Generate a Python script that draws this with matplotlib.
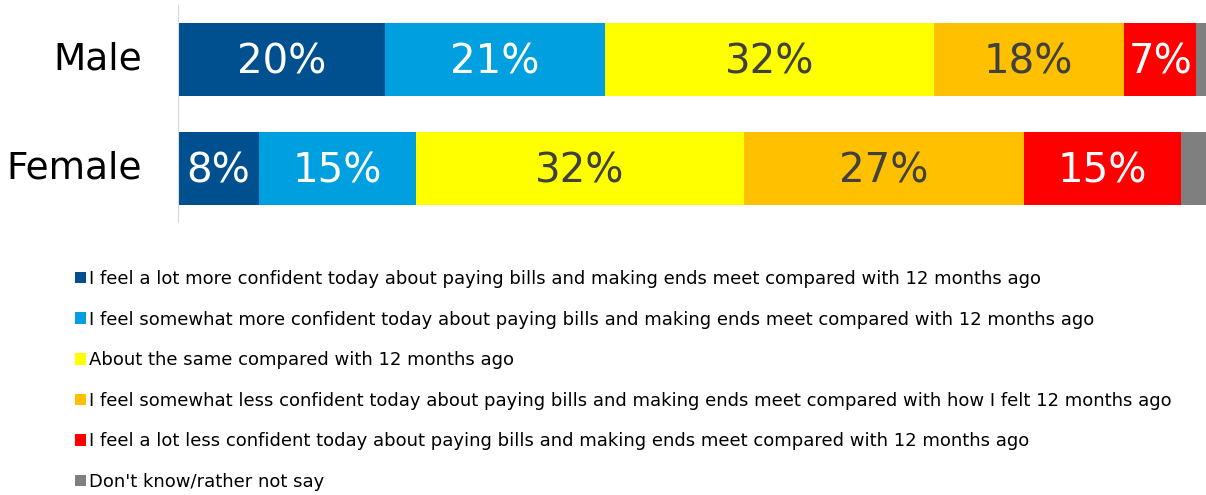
import matplotlib.pyplot as plt
import numpy as np

# data
groups = ['Male', 'Female']
series = [
    'I feel a lot more confident today about paying bills and making ends meet compared with 12 months ago',
    'I feel somewhat more confident today about paying bills and making ends meet compared with 12 months ago',
    'About the same compared with 12 months ago',
    'I feel somewhat less confident today about paying bills and making ends meet compared with how I felt 12 months ago',
    'I feel a lot less confident today about paying bills and making ends meet compared with 12 months ago',
    "Don't know/rather not say",
]
male = [20.0, 21.3, 31.7, 18.4, 7.0, 1.6]
female = [7.8, 15.2, 31.7, 27.0, 15.2, 3.1]
show_label = [True, True, True, True, True, False]

colors = ['#00508F', '#009FE0', '#FFFF00', '#FFC000', '#FF0000', '#7F7F7F']
text_colors = ['white', 'white', '#404040', '#404040', 'white', 'white']


def main() -> None:
    fig = plt.figure(figsize=(12.06, 4.95), dpi=100)
    ax = fig.add_axes([178 / 1206, 1 - 222 / 495, 1035 / 1206, 217 / 495])

    values = np.array([male, female])
    y = np.arange(len(groups))
    left = np.zeros(len(groups))
    handles = []
    for i, name in enumerate(series):
        bars = ax.barh(y, values[:, i], left=left, height=0.67,
                       color=colors[i], label=name)
        handles.append(bars)
        if show_label[i]:
            for j, b in enumerate(bars):
                ax.text(left[j] + values[j, i] / 2, y[j] + 0.03,
                        f'{values[j, i]:.0f}%',
                        ha='center', va='center', fontsize=29,
                        color=text_colors[i])
        left += values[:, i]

    ax.set_xlim(0, 100)
    ax.set_ylim(1.494, -0.497)
    ax.set_yticks(y)
    ax.set_yticklabels(groups, fontsize=27, va='center')
    ax.tick_params(axis='y', length=0, pad=26)
    ax.set_xticks([])
    for s in ['top', 'right', 'bottom']:
        ax.spines[s].set_visible(False)
    ax.spines['left'].set_color('#d9d9d9')

    fig.legend(handles, series, loc='upper left',
               bbox_to_anchor=(75 / 1206, 1 - 270 / 495),
               frameon=False, fontsize=13, handlelength=0.6,
               handleheight=0.6, handletextpad=0.2, labelspacing=1.25,
               borderaxespad=0, borderpad=0)

    fig.savefig('out.png', dpi=100)
    return None


if __name__ == "__main__":
    main()
